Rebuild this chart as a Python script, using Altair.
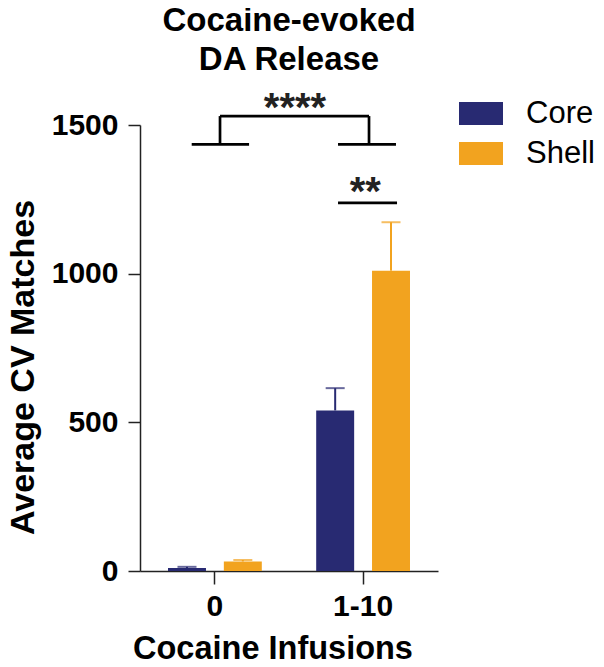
import altair as alt
import pandas as pd

# ---- data ----
groups = ["0", "0", "1-10", "1-10"]
regions = ["Core", "Shell", "Core", "Shell"]
means = [10, 32, 540, 1010]
sems = [4, 5, 75, 163]

group_order = ["0", "1-10"]
region_order = ["Core", "Shell"]
region_colors = ["#282A72", "#F2A31F"]

# significance brackets (x in group units 0..2, y in data units)
br_x1 = [0.347, 1.329, 0.537, 1.537, 0.537, 1.329]
br_x2 = [0.732, 1.718, 0.537, 1.537, 1.537, 1.725]
br_y1 = [1435, 1435, 1435, 1435, 1530, 1238]
br_y2 = [1435, 1435, 1530, 1530, 1530, 1238]

star_text = ["****", "**"]
star_x = [1.04, 1.512]
star_y = [1515, 1232]

FONT = "Liberation Sans"
INK = "#000000"

df = pd.DataFrame({"group": groups, "region": regions, "mean": means, "sem": sems})
df["top"] = df["mean"] + df["sem"]

br = pd.DataFrame({"x1": br_x1, "x2": br_x2, "y1": br_y1, "y2": br_y2})
st = pd.DataFrame({"label": star_text, "x": star_x, "y": star_y})

yscale = alt.Scale(domain=[0, 1500], nice=False)
xscale = alt.Scale(domain=group_order, paddingInner=0.367, paddingOuter=0.189)
offscale = alt.Scale(domain=region_order, paddingInner=0.32, paddingOuter=0)
cscale = alt.Scale(domain=region_order, range=region_colors)

x_axis = alt.Axis(
    title="Cocaine Infusions", labelAngle=0, labelFontSize=30, labelFont=FONT,
    labelFontWeight="bold", labelColor=INK, labelPadding=7, tickSize=13,
    titleFontSize=32.5, titleFont=FONT, titleFontWeight="bold", titleColor=INK,
    titleX=132.5, titleY=87, titleAlign="center", titleBaseline="alphabetic",
)
y_axis = alt.Axis(
    values=[0, 500, 1000, 1500], format="d", title="Average CV Matches",
    grid=False, labelFontSize=30, labelFont=FONT, labelFontWeight="bold",
    labelColor=INK, labelPadding=10, tickSize=12,
    titleFontSize=34, titleFont=FONT, titleFontWeight="bold", titleColor=INK,
    titleAngle=270, titleX=-107, titleY=242, titleAlign="center",
    titleBaseline="alphabetic",
)

legend = alt.Legend(
    title=None, orient="none", legendX=319, legendY=-33.5, padding=0,
    symbolType="M-1,-0.52H1V0.52H-1Z", symbolSize=1936, symbolStrokeWidth=0,
    symbolOpacity=1, labelFontSize=31, labelFont=FONT, labelColor=INK,
    labelOffset=23, rowPadding=3,
)

xe = alt.X("group:N", sort=group_order, scale=xscale, axis=x_axis)
xo = alt.XOffset("region:N", sort=region_order, scale=offscale)

bars = alt.Chart(df).mark_bar().encode(
    x=xe, xOffset=xo,
    y=alt.Y("mean:Q", scale=yscale, axis=y_axis),
    color=alt.Color("region:N", scale=cscale, legend=legend),
)
err = alt.Chart(df).mark_rule(strokeWidth=2).encode(
    x=xe, xOffset=xo,
    y=alt.Y("mean:Q", scale=yscale, axis=y_axis), y2="top:Q",
    color=alt.Color("region:N", scale=cscale, legend=None),
)
caps = alt.Chart(df).mark_tick(size=19, thickness=2).encode(
    x=xe, xOffset=xo,
    y=alt.Y("top:Q", scale=yscale, axis=y_axis),
    color=alt.Color("region:N", scale=cscale, legend=None),
)
main = alt.layer(bars, err, caps)

qx = alt.Scale(domain=[0, 2], nice=False, zero=False)
brackets = alt.Chart(br).mark_rule(strokeWidth=2.7, color=INK).encode(
    x=alt.X("x1:Q", scale=qx, axis=None), x2="x2:Q",
    y=alt.Y("y1:Q", scale=yscale, axis=y_axis), y2="y2:Q",
)
stars = alt.Chart(st).mark_text(
    font=FONT, fontSize=40, fontWeight="bold", color="#222222",
    align="center", baseline="alphabetic",
).encode(
    x=alt.X("x:Q", scale=qx, axis=None),
    y=alt.Y("y:Q", scale=yscale, axis=y_axis),
    text="label:N",
)
annot = alt.layer(brackets, stars)

chart = alt.layer(main, annot).resolve_scale(x="independent").properties(
    width=298, height=446,
    autosize=alt.AutoSizeParams(type="none"),
    padding={"left": 132, "top": 117, "right": 158, "bottom": 88},
    title=alt.TitleParams(
        text=["Cocaine-evoked", "DA Release"], font=FONT, fontSize=33,
        fontWeight="bold", color=INK, anchor="middle", frame="group",
        lineHeight=39, offset=12,
    ),
).configure_view(stroke=None).configure_axis(
    domainColor="#222222", domainWidth=1.5, tickColor="#222222", tickWidth=1.5,
)

chart.save("out.html", embed_options={"renderer": "svg", "actions": False})
